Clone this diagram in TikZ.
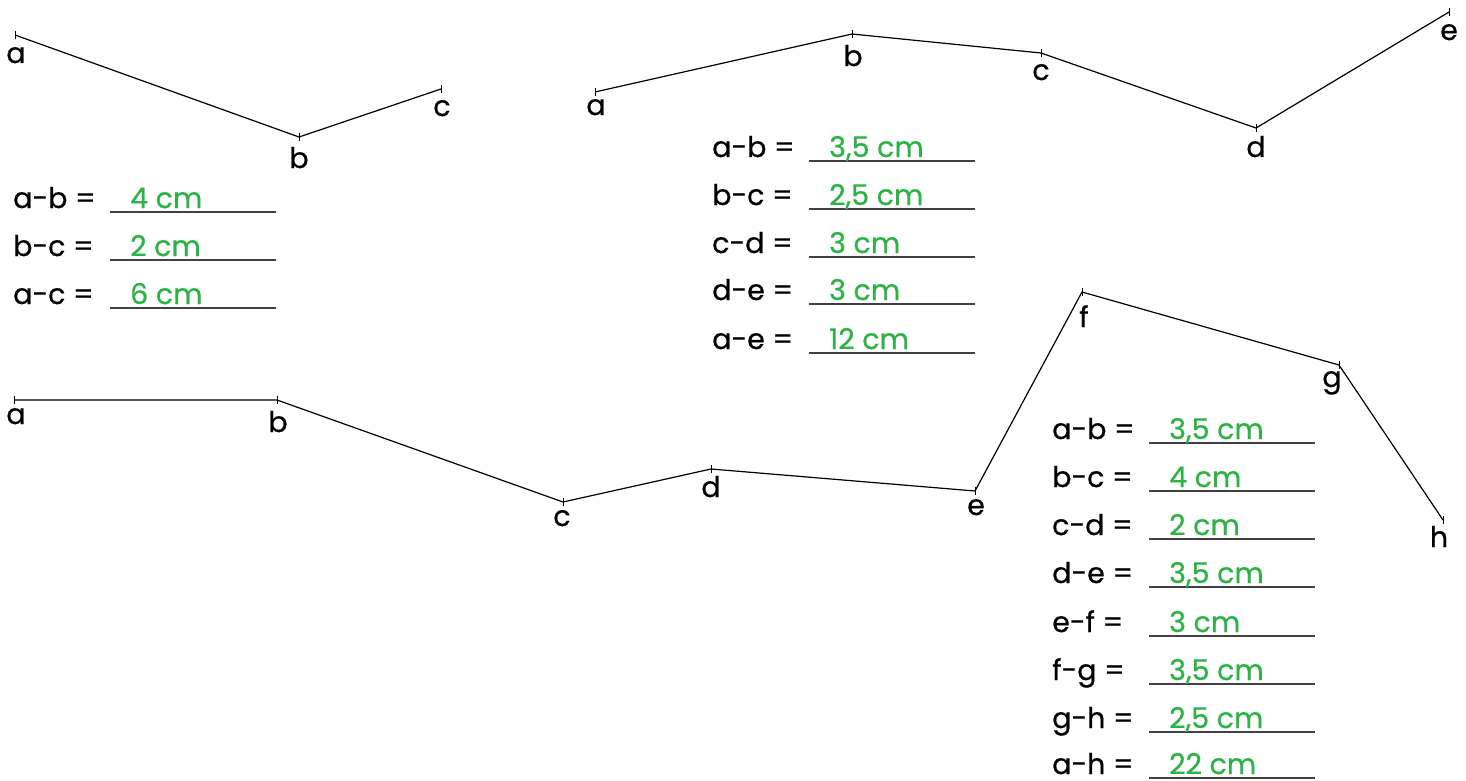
\documentclass[tikz,border=0pt]{standalone}
\usepackage{fontspec}
\setmainfont{Poppins}[FakeBold=0.6]
\definecolor{ansgreen}{RGB}{45,178,70}
\definecolor{blankgray}{RGB}{64,64,64}
\newcommand\mytabrow[5]{%
  \node[rowlab] (#1l) at (#2,#3-4) {#4 =};
  \coordinate (#1s) at (#2+97,#3);
  \coordinate (#1e) at (#2+263,#3);
  \draw[blank] (#1s) -- (#1e);
  \node[answer] (#1a) at (#2+117,#3-4) {#5};
}
\begin{document}
\begin{tikzpicture}[x=1pt,y=-1pt,
  every node/.style={inner sep=0pt, font=\fontsize{28.5}{30}\selectfont},
  vlabel/.style={anchor=base},
  seg/.style={line width=1.2pt, black},
  tickmark/.style={line width=0.9pt, black},
  rowlab/.style={anchor=base west},
  answer/.style={anchor=base west, text=ansgreen},
  blank/.style={line width=1.4pt, draw=blankgray}]
\useasboundingbox (0,0) rectangle (1466,781);

% ---------- figure 1 ----------
\coordinate (Aa) at (15,35);
\coordinate (Ab) at (299,137);
\coordinate (Ac) at (441,89);
\draw[seg] (Aa) -- (Ab) -- (Ac);
\foreach \p in {Aa,Ab,Ac} \draw[tickmark] ([yshift=4pt]\p) -- ([yshift=-4pt]\p);
\node[vlabel] (Aal) at (16,63) {a};
\node[vlabel] (Abl) at (299,168) {b};
\node[vlabel] (Acl) at (442,116) {c};

\mytabrow{Ta1}{13}{212}{a-b}{4 cm}
\mytabrow{Ta2}{13}{260}{b-c}{2 cm}
\mytabrow{Ta3}{13}{308}{a-c}{6 cm}

% ---------- figure 2 ----------
\coordinate (Ba) at (595,92);
\coordinate (Bb) at (852,34);
\coordinate (Bc) at (1041,53);
\coordinate (Bd) at (1256,128);
\coordinate (Be) at (1449,12);
\draw[seg] (Ba) -- (Bb) -- (Bc) -- (Bd) -- (Be);
\foreach \p in {Ba,Bb,Bc,Bd,Be} \draw[tickmark] ([yshift=4pt]\p) -- ([yshift=-4pt]\p);
\node[vlabel] (Bal) at (596,115) {a};
\node[vlabel] (Bbl) at (853,66) {b};
\node[vlabel] (Bcl) at (1041,80) {c};
\node[vlabel] (Bdl) at (1256,157) {d};
\node[vlabel] (Bel) at (1449,40) {e};

\mytabrow{Tb1}{712}{161}{a-b}{3,5 cm}
\mytabrow{Tb2}{712}{209}{b-c}{2,5 cm}
\mytabrow{Tb3}{712}{257}{c-d}{3 cm}
\mytabrow{Tb4}{712}{304}{d-e}{3 cm}
\mytabrow{Tb5}{712}{353}{a-e}{12 cm}

% ---------- figure 3 ----------
\coordinate (Ca) at (14,400);
\coordinate (Cb) at (277,400);
\coordinate (Cc) at (563,502);
\coordinate (Cd) at (711,469);
\coordinate (Ce) at (975,491);
\coordinate (Cf) at (1082,292);
\coordinate (Cg) at (1339,365);
\coordinate (Ch) at (1443,520);
\draw[seg] (Ca) -- (Cb) -- (Cc) -- (Cd) -- (Ce) -- (Cf) -- (Cg) -- (Ch);
\foreach \p in {Ca,Cb,Cc,Cd,Ce,Cf,Cg,Ch} \draw[tickmark] ([yshift=4pt]\p) -- ([yshift=-4pt]\p);
\node[vlabel] (Cal) at (16,424) {a};
\node[vlabel] (Cbl) at (278,432) {b};
\node[vlabel] (Ccl) at (562,526) {c};
\node[vlabel] (Cdl) at (711,497) {d};
\node[vlabel] (Cel) at (976,515) {e};
\node[vlabel] (Cfl) at (1084,327) {f};
\node[vlabel] (Cgl) at (1332,387) {g};
\node[vlabel] (Chl) at (1439,547) {h};

\mytabrow{Tc1}{1052}{443}{a-b}{3,5 cm}
\mytabrow{Tc2}{1052}{491}{b-c}{4 cm}
\mytabrow{Tc3}{1052}{539}{c-d}{2 cm}
\mytabrow{Tc4}{1052}{587}{d-e}{3,5 cm}
\mytabrow{Tc5}{1052}{636}{e-f}{3 cm}
\mytabrow{Tc6}{1052}{684}{f-g}{3,5 cm}
\mytabrow{Tc7}{1052}{732}{g-h}{2,5 cm}
\mytabrow{Tc8}{1052}{778}{a-h}{22 cm}
\end{tikzpicture}
\end{document}
